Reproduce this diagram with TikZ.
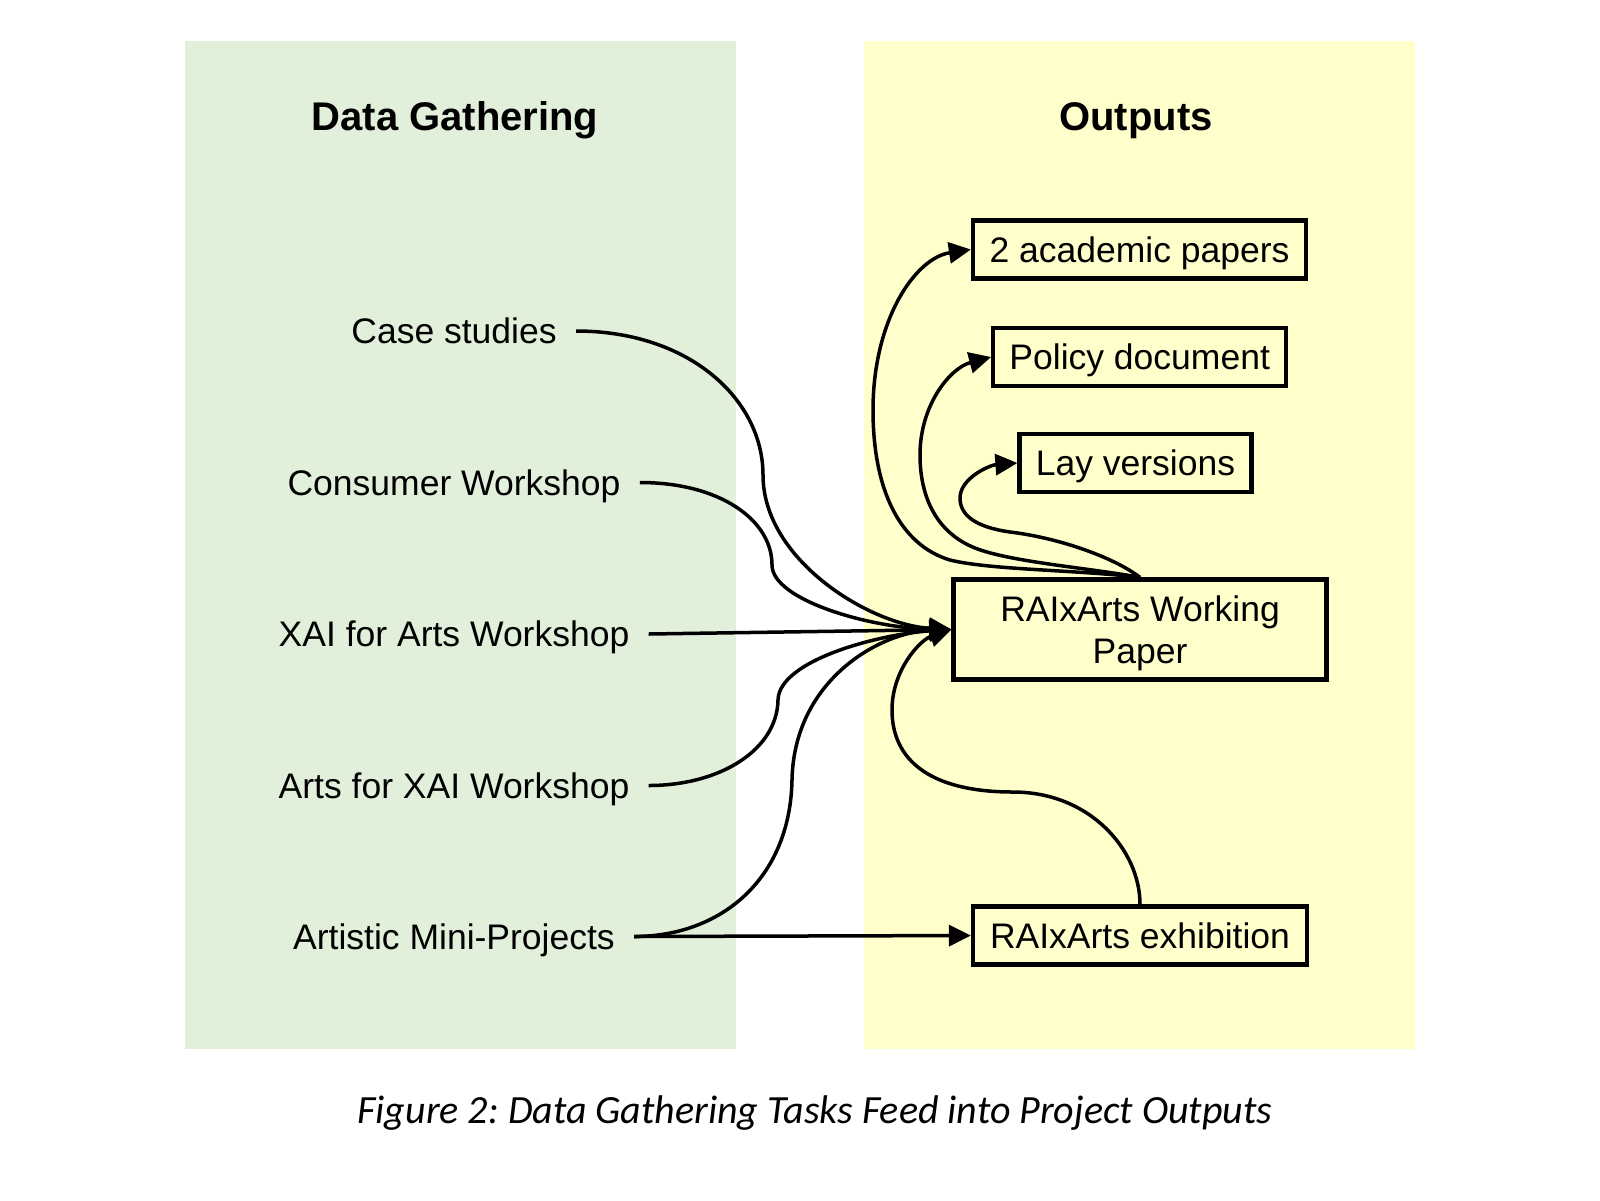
\documentclass[tikz,border=0pt]{standalone}
\usepackage{fontspec}
\setmainfont{Liberation Sans}
\newfontfamily\capfont{Carlito}
\usetikzlibrary{arrows.meta}
\definecolor{greenbg}{RGB}{226,239,218}
\definecolor{yellowbg}{RGB}{255,255,204}
\begin{document}
\begin{tikzpicture}[x=0.5pt,y=-0.5pt,
  lbl/.style={font=\fontsize{17.75pt}{21pt}\selectfont, text height=12.71pt, text depth=0pt, inner xsep=9.5pt, inner ysep=0pt},
  outbox/.style={draw, line width=2.1pt, font=\fontsize{17.75pt}{21.15pt}\selectfont, inner sep=0pt, align=center},
  onetext/.style={text height=12.71pt, text depth=0pt},
  ttl/.style={font=\fontsize{20pt}{24pt}\selectfont\bfseries, text height=14.32pt, text depth=0pt, inner sep=0pt},
  conn/.style={line width=1.75pt, -{Triangle[length=11pt,width=10.5pt]}}
]
\useasboundingbox[fill=white] (0,0) rectangle (1600,1200);
% panels
\fill[greenbg] (185,41) rectangle (736,1049);
\fill[yellowbg] (864,41) rectangle (1415,1049);
% titles
\node[ttl] (t1) at (455,116) {Data Gathering};
\node[ttl] (t2) at (1136,116) {Outputs};
% left labels
\node[lbl] (cs)  at (454,331) {Case studies};
\node[lbl] (cw)  at (454,482.5) {Consumer Workshop};
\node[lbl] (xai) at (454,634) {XAI for Arts Workshop};
\node[lbl] (afx) at (454,785.5) {Arts for XAI Workshop};
\node[lbl] (amp) at (454,936.5) {Artistic Mini-Projects};
% output boxes
\node[outbox, onetext, minimum width=166.5pt, minimum height=29pt] (acad) at (1139.5,249.5) {2 academic papers};
\node[outbox, onetext, minimum width=146.5pt, minimum height=29pt] (pol) at (1139.7,357) {Policy document};
\node[outbox, onetext, minimum width=116pt, minimum height=29pt] (lay) at (1135.5,463) {Lay versions};
\node[outbox, minimum width=186.5pt, minimum height=50pt] (wp) at (1140,629.5) {\rule{0pt}{16.4pt}RAIxArts Working\\Paper};
\node[outbox, onetext, minimum width=167pt, minimum height=29pt] (exh) at (1140,935.5) {RAIxArts exhibition};
% caption
\node[font=\capfont\itshape\fontsize{20pt}{24pt}\selectfont, text height=12.9pt, text depth=0pt, inner sep=0pt] (cap) at (815,1111) {\frenchspacing Figure 2: Data Gathering Tasks Feed into Project Outputs};
% connectors into working paper
\draw[conn] (cs.east) .. controls (690,331) and (763,400) .. (763,475) .. controls (763,560) and (870,625) .. (wp.west);
\draw[conn] (cw.east) .. controls (720,482.5) and (772,520) .. (772,565) .. controls (772,600) and (870,628) .. (wp.west);
\draw[conn] (xai.east) -- (wp.west);
\draw[conn] (afx.east) .. controls (720,785.5) and (777,750) .. (778,700) .. controls (779,660) and (880,634) .. (wp.west);
\draw[conn] (amp.east) .. controls (720,936.5) and (790,880) .. (792,780) .. controls (794,680) and (880,632) .. (wp.west);
\draw[conn] (amp.east) -- (exh.west);
\draw[conn] (exh.north) .. controls (1140,850) and (1090,792) .. (1013,792) .. controls (930,792) and (892,760) .. (892,710) .. controls (892,670) and (920,640) .. (wp.west);
% connectors out of working paper
\draw[conn] (wp.north) .. controls (1080,570) and (990,570) .. (950,560) .. controls (900,545) and (873,490) .. (873,410) .. controls (873,320) and (915,258) .. (acad.west);
\draw[conn] (wp.north) .. controls (1090,568) and (1010,562) .. (975,548) .. controls (935,532) and (920,495) .. (920,455) .. controls (920,405) and (950,368) .. (pol.west);
\draw[conn] (wp.north) .. controls (1115,558) and (1060,538) .. (1010,532) .. controls (975,527) and (960,515) .. (960,498) .. controls (960,478) and (990,465) .. (lay.west);
\end{tikzpicture}
\end{document}
